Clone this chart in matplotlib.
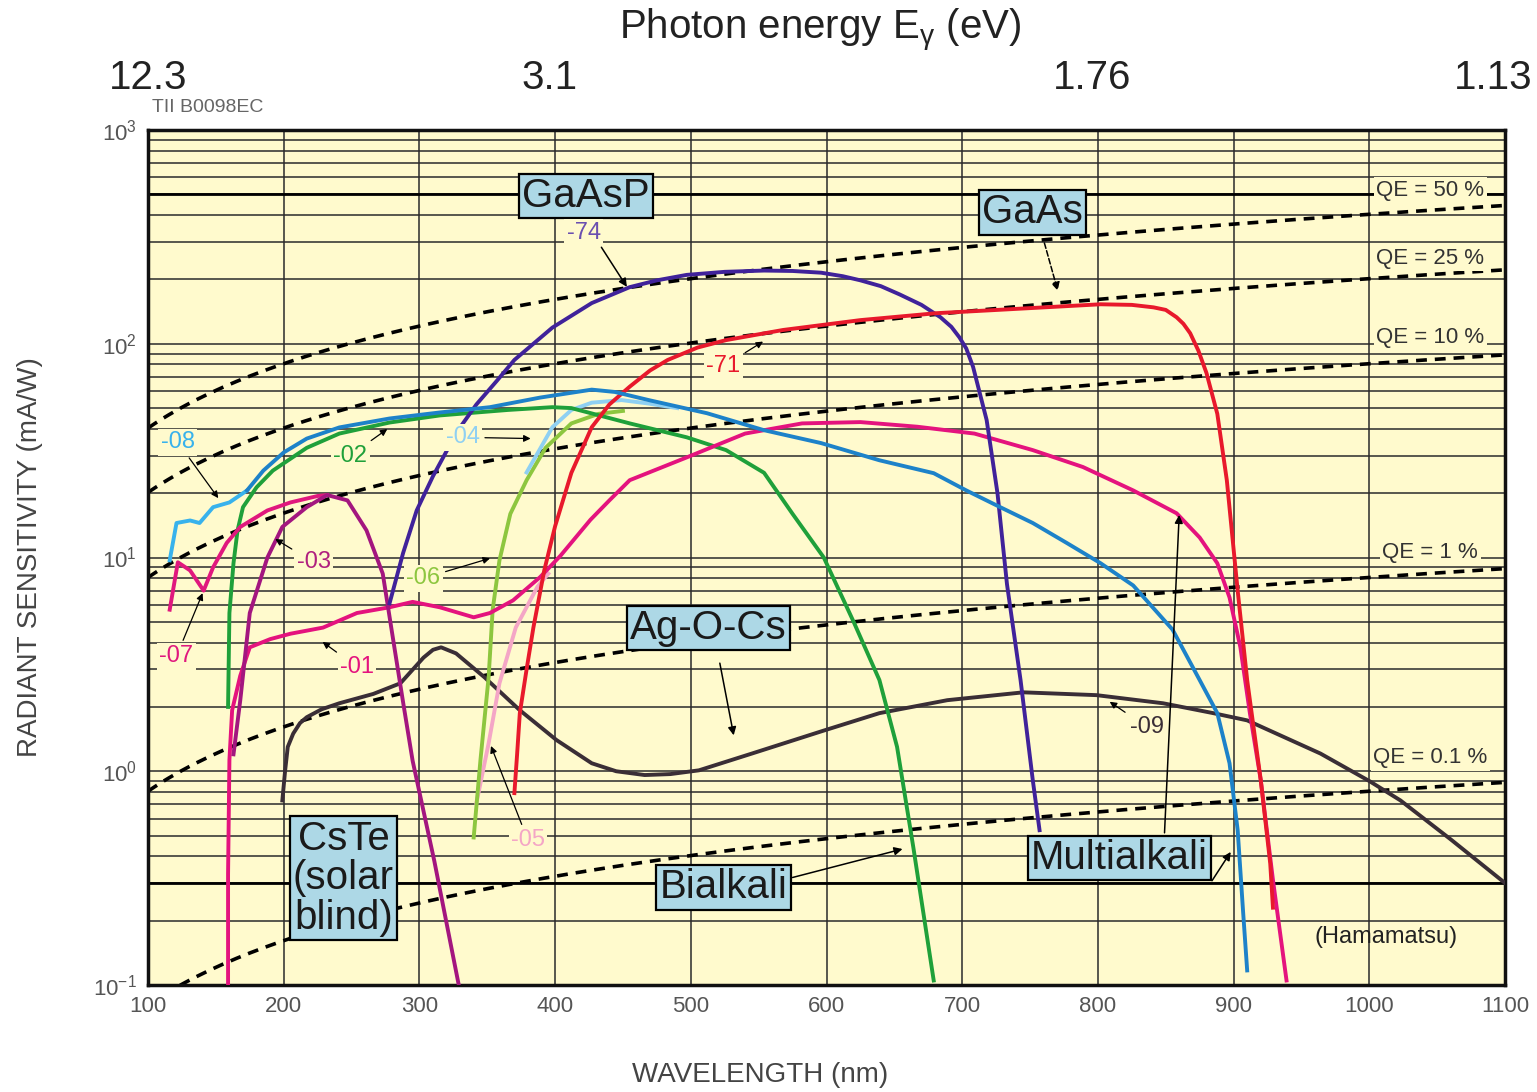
import numpy as np
import matplotlib
matplotlib.use("Agg")
import matplotlib.pyplot as plt
from matplotlib.ticker import LogLocator, NullFormatter

plt.rcParams['font.family'] = ['Liberation Sans', 'DejaVu Sans']

# ---- data (wavelength nm, radiant sensitivity mA/W) ----
gaasp_nm = [278, 288, 298, 310, 328, 342, 357, 370, 398, 427, 455, 475, 497, 525, 554, 575, 596, 612, 625, 640, 654, 670, 684, 692, 698, 703, 708, 718, 726, 733, 743, 752, 757]
gaasp_s = [6.1, 10.5, 16.6, 24, 39, 52, 67, 84, 119, 155, 184, 198, 210, 217, 220, 219, 215, 207, 198, 186, 170, 152, 133, 120, 107, 95, 78, 44, 20, 7.5, 2.67, 0.91, 0.53]

gaas_nm = [370, 372, 374, 379, 384, 392, 400, 412, 427, 440, 455, 470, 483, 505, 526, 568, 625, 681, 726, 802, 825, 841, 850, 858, 863, 868, 874, 880, 888, 895, 903, 910, 920, 927, 929]
gaas_s = [0.79, 1.2, 1.87, 3.0, 4.7, 8.7, 14, 24.9, 40.7, 52, 63, 75, 84, 96, 104, 116, 129, 139, 144, 153, 152, 148, 144, 133, 124, 112, 93, 73, 47, 23, 7, 2.67, 0.91, 0.37, 0.23]

m08_nm = [116, 121, 131, 138, 148, 160, 173, 185, 200, 217, 241, 278, 315, 352, 389, 427, 444, 469, 512, 554, 596, 639, 679, 703, 728, 752, 777, 802, 826, 855, 875, 888, 897, 903, 907, 910]
m08_s = [9.7, 14.5, 14.9, 14.5, 17.2, 18.1, 20.6, 25.5, 31, 36, 40.6, 44.7, 47.7, 50.5, 56, 61, 59.5, 54.5, 47.3, 39.4, 34.3, 28.5, 24.8, 20.6, 17.2, 14.5, 11.7, 9.4, 7.4, 4.6, 2.67, 1.87, 1.09, 0.53, 0.22, 0.117]

m02_nm = [159, 160, 163, 166, 170, 180, 192, 217, 241, 278, 315, 365, 398, 412, 455, 497, 526, 554, 575, 598, 620, 639, 652, 664, 679]
m02_s = [2.0, 5.5, 9.4, 13.4, 17.2, 21.3, 25.5, 32.6, 38, 42.8, 46.2, 49, 50.5, 50, 42.4, 36.5, 31.8, 24.9, 16, 10, 5, 2.67, 1.3, 0.44, 0.105]

m01_nm = [159, 159, 160, 162, 168, 175, 190, 205, 229, 254, 278, 295, 315, 340, 352, 369, 389, 404, 426, 440, 455, 497, 540, 582, 625, 667, 709, 752, 789, 826, 858, 875, 888, 897, 905, 912, 920, 929, 939]
m01_s = [0.1, 0.33, 1.13, 1.93, 2.8, 3.8, 4.15, 4.4, 4.7, 5.5, 5.85, 6.2, 5.85, 5.25, 5.5, 6.3, 8.1, 10.2, 15, 18.5, 23, 29.4, 38, 42.4, 43, 40.9, 38, 31.8, 26.5, 20.6, 16.1, 12.4, 9.4, 6.5, 3.8, 1.87, 0.91, 0.31, 0.105]

m03_nm = [163, 168, 175, 188, 199, 217, 232, 247, 261, 273, 281, 288, 295, 311, 329]
m03_s = [1.2, 2.15, 5.5, 10, 13.9, 17.2, 19.6, 18.5, 13.4, 8.4, 4.0, 2.1, 1.12, 0.38, 0.1]

m07_nm = [116, 122, 131, 141, 148, 158, 168, 188, 205, 225, 232]
m07_s = [5.7, 9.5, 8.7, 7.0, 9.0, 11.7, 13.9, 16.6, 18.1, 19.4, 19.6]

m09_nm = [199, 201, 203, 207, 212, 217, 228, 241, 266, 286, 303, 310, 316, 327, 348, 374, 401, 427, 445, 466, 485, 506, 545, 598, 639, 689, 745, 799, 848, 885, 910, 964, 1000, 1023, 1060, 1100]
m09_s = [0.73, 1.0, 1.3, 1.5, 1.68, 1.79, 1.95, 2.08, 2.3, 2.58, 3.4, 3.7, 3.8, 3.56, 2.75, 1.93, 1.4, 1.09, 1.0, 0.96, 0.97, 1.01, 1.21, 1.55, 1.87, 2.15, 2.34, 2.27, 2.08, 1.87, 1.73, 1.21, 0.9, 0.73, 0.48, 0.30]

m06_nm = [340, 345, 351, 354, 359, 367, 379, 393, 412, 432, 450]
m06_s = [0.49, 1.13, 2.75, 5.7, 9.7, 16, 23, 32.6, 42.4, 47, 48.5]

m05_nm = [342, 351, 359, 371, 387, 395]
m05_s = [0.71, 1.35, 2.58, 4.7, 7.3, 8.4]

m04_nm = [379, 398, 412, 427, 449, 469, 490]
m04_s = [25, 40.7, 49, 53, 54.5, 52.5, 50]

qe_levels = [50, 25, 10, 1, 0.1]
top_ticks_nm = [100, 396, 796, 1091]
top_labels = ['12.3', '3.1', '1.76', '1.13']

bg = '#FFFACD'
box_fc = '#ADD8E6'

fig = plt.figure(figsize=(15.37, 10.92), dpi=100)
ax = fig.add_axes([148/1537, 107/1092, 1357/1537, 855/1092])
ax.set_facecolor(bg)
ax.set_xlim(100, 1100)
ax.set_yscale('log')
ax.set_ylim(0.1, 1000)

ax.set_xticks(range(100, 1101, 100))
ax.yaxis.set_major_locator(LogLocator(base=10, numticks=10))
ax.yaxis.set_minor_locator(LogLocator(base=10, subs=range(2, 10), numticks=20))
ax.yaxis.set_minor_formatter(NullFormatter())
ax.grid(which='major', axis='x', color='#2a2a2a', lw=1.1)
ax.grid(which='both', axis='y', color='#2a2a2a', lw=1.1)
ax.axhline(500, color='black', lw=2)
ax.axhline(0.3, color='black', lw=2)
ax.tick_params(which='both', length=0, labelsize=16, labelcolor='#555555', pad=8)
for s in ax.spines.values():
    s.set_linewidth(2.5)
    s.set_color('#111111')

# QE reference lines (definition: S[mA/W] = QE * lambda[nm] / 1.24)
lam = np.linspace(100, 1100, 200)
for q in qe_levels:
    ax.plot(lam, q / 100 * lam / 1.24, color='black', lw=2.6, ls=(0, (3, 2.2)), zorder=2)

lw = 2.8
ax.plot(m09_nm, m09_s, color='#3A2E36', lw=lw, zorder=3)
ax.plot(m05_nm, m05_s, color='#F4A6C6', lw=lw, zorder=3)
ax.plot(m06_nm, m06_s, color='#8DC63F', lw=lw, zorder=3)
ax.plot(m04_nm, m04_s, color='#8FD0F2', lw=lw, zorder=3)
ax.plot(m02_nm, m02_s, color='#1FA03A', lw=lw, zorder=3)
ax.plot(m08_nm[:7], m08_s[:7], color='#38B2EC', lw=lw, zorder=4)
ax.plot(m08_nm[6:], m08_s[6:], color='#1D82C9', lw=lw, zorder=4)
ax.plot(m01_nm, m01_s, color='#E4137E', lw=lw, zorder=3)
ax.plot(m07_nm, m07_s, color='#E0187E', lw=lw, zorder=3)
ax.plot(m03_nm, m03_s, color='#A3167F', lw=lw, zorder=3)
ax.plot(gaasp_nm, gaasp_s, color='#40229A', lw=lw, zorder=3)
ax.plot(gaas_nm, gaas_s, color='#E8192C', lw=lw, zorder=3)

# QE labels
qe_pos = [523, 251, 107, 10.6, 1.16]
for q, yv in zip(qe_levels, qe_pos):
    ax.text(1045, yv, 'QE = %g %%' % q, fontsize=16, color='#333333', ha='center', va='center',
            bbox=dict(boxstyle='square,pad=0.12', fc=bg, ec='none'), zorder=5)

# big labelled boxes
big = dict(fontsize=29, color='#1a1a1a', ha='center', va='center', zorder=6,
           bbox=dict(boxstyle='square,pad=0.08', fc=box_fc, ec='black', lw=1.6))
ax.text(423, 490, 'GaAsP', **big)
ax.text(752, 412, 'GaAs', **big)
ax.text(513, 4.67, 'Ag-O-Cs', **big)
ax.text(244, 0.316, 'CsTe\n(solar\nblind)', linespacing=1.05, **big)
ax.text(524, 0.286, 'Bialkali', **big)
ax.text(816, 0.392, 'Multialkali', **big)

arr = dict(arrowstyle='-|>', color='black', lw=1.1, mutation_scale=12)
ax.annotate('', xy=(454, 180), xytext=(433, 290), arrowprops=arr, zorder=6)
ax.annotate('', xy=(771, 172), xytext=(760, 305), arrowprops=dict(arr, ls='--'), zorder=6)
ax.annotate('', xy=(532, 1.43), xytext=(521, 3.3), arrowprops=arr, zorder=6)
ax.annotate('', xy=(658, 0.436), xytext=(573, 0.316), arrowprops=arr, zorder=6)
ax.annotate('', xy=(860, 16.3), xytext=(849, 0.5), arrowprops=arr, zorder=6)
ax.annotate('', xy=(899, 0.43), xytext=(883, 0.30), arrowprops=arr, zorder=6)

# small curve labels
small = [('-74', 421, 331, None, '#6a4fb0'),
         ('-71', 524, 78.5, (555, 104), '#E8192C'),
         ('-08', 122, 34.6, (153, 18.5), '#38B2EC'),
         ('-02', 249, 30, (278, 40.6), '#1FA03A'),
         ('-04', 332, 36.5, (384, 36), '#8FD0F2'),
         ('-03', 222, 9.5, (192, 12.4), '#B0207F'),
         ('-07', 121, 3.45, (141, 7.0), '#E0187E'),
         ('-01', 254, 3.07, (227, 4.1), '#E4137E'),
         ('-06', 303, 8.0, (354, 10), '#8DC63F'),
         ('-05', 380, 0.475, (352, 1.35), '#F4A6C6'),
         ('-09', 836, 1.61, (807, 2.15), '#3A2E36')]
for lab, xv, yv, tip, col in small:
    if tip is None:
        ax.text(xv, yv, lab, fontsize=17, color=col, ha='center', va='center', zorder=6,
                bbox=dict(boxstyle='square,pad=0.1', fc=bg, ec='none'))
    else:
        ax.annotate(lab, xy=tip, xytext=(xv, yv), fontsize=17, color=col, ha='center', va='center',
                    zorder=6, bbox=dict(boxstyle='square,pad=0.1', fc=bg, ec='none'),
                    arrowprops=dict(arrowstyle='-|>', color='black', lw=0.9, mutation_scale=10))

ax.text(1012, 0.167, '(Hamamatsu)', fontsize=17, color='#222222', ha='center', va='center', zorder=6)

# top energy axis
ax2 = ax.twiny()
ax2.set_xlim(ax.get_xlim())
ax2.set_xticks(top_ticks_nm)
ax2.set_xticklabels(top_labels)
ax2.tick_params(length=0, labelsize=29, pad=24, labelcolor='#222222')
for s in ax2.spines.values():
    s.set_visible(False)

fig.text(820/1537, 1 - 30/1092, 'Photon energy E$_\\mathregular{γ}$ (eV)', fontsize=29,
         ha='center', va='center', color='#222222')
fig.text(152/1537, 1 - 108/1092, 'TII B0098EC', fontsize=14, color='#666666', va='center')
fig.text(30/1537, 1 - 557/1092, 'RADIANT SENSITIVITY (mA/W)', fontsize=20, rotation=90,
         ha='center', va='center', color='#444444')
fig.text(760/1537, 1 - 1075/1092, 'WAVELENGTH (nm)', fontsize=20, ha='center', va='center',
         color='#444444')

fig.savefig('out.png', dpi=100, facecolor='white')
